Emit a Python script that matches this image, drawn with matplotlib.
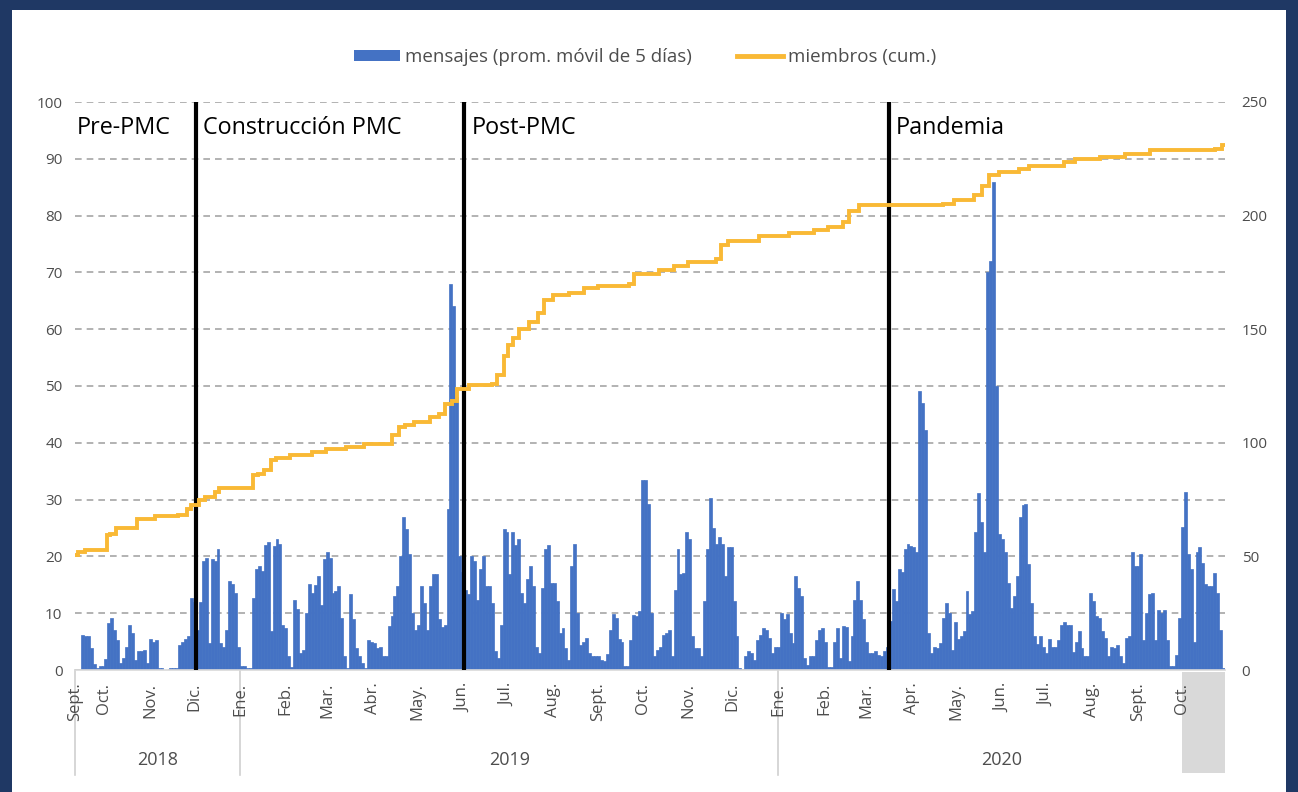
import numpy as np
import pandas as pd
import matplotlib
matplotlib.use('Agg')
import matplotlib.pyplot as plt
import matplotlib.transforms as mtransforms
from matplotlib.patches import Rectangle, Patch
from matplotlib.lines import Line2D

# ---------------- data ----------------
start_date = '2018-09-11'
end_date = '2020-10-30'
bin_days = 2

# mensajes (prom. movil de 5 dias), one value per 2-day bin from start_date
msg_vals = [
    0, 0, 6.2, 6.0, 6.0, 3.8, 1.0, 0.3, 0.7, 0.7,
    2.0, 8.3, 9.2, 7.1, 5.3, 1.2, 2.1, 4.1, 8.0, 6.5,
    1.8, 3.3, 3.3, 3.6, 1.2, 5.4, 4.9, 5.3, 0.3, 0.3,
    0, 0, 0.3, 0.3, 0.3, 4.4, 5.0, 5.4, 6.0, 12.7,
    12.0, 7.1, 12.0, 19.2, 19.8, 4.7, 19.5, 19.2, 21.3, 4.7,
    4.1, 7.1, 15.7, 15.1, 13.6, 4.0, 0.7, 0.7, 0.3, 0.3,
    12.7, 17.8, 18.3, 17.5, 22.0, 22.5, 6.8, 21.9, 23.1, 22.2,
    8.0, 7.4, 2.4, 0.6, 12.4, 10.7, 3.0, 3.6, 10.0, 15.1,
    13.6, 15.0, 16.6, 11.5, 19.5, 20.7, 19.8, 13.6, 13.9, 14.8,
    9.2, 2.4, 0.3, 13.3, 8.9, 3.8, 2.4, 1.3, 0.3, 5.3,
    5.0, 4.7, 3.8, 4.1, 2.4, 2.4, 7.7, 9.5, 13.0, 14.8,
    20.0, 26.9, 24.9, 20.4, 10.0, 7.1, 8.0, 14.8, 11.8, 7.0,
    14.8, 16.9, 16.9, 9.0, 7.5, 8.0, 28.4, 68.0, 64.0, 48.0,
    20.0, 17.2, 14.0, 13.3, 20.0, 19.2, 12.4, 17.8, 20.1, 14.8,
    14.8, 11.8, 3.3, 2.1, 8.0, 24.9, 24.3, 16.9, 24.3, 22.0,
    23.1, 13.6, 11.8, 16.0, 18.3, 14.8, 4.1, 3.0, 14.5, 21.3,
    22.0, 15.4, 15.4, 12.1, 6.5, 7.4, 3.8, 1.8, 18.3, 22.2,
    10.0, 4.4, 5.0, 5.6, 3.0, 2.4, 2.4, 2.4, 1.8, 1.5,
    2.8, 7.1, 9.8, 9.2, 5.5, 5.0, 0.7, 0.7, 5.3, 9.6,
    9.5, 10.4, 33.4, 33.4, 29.3, 10.0, 2.4, 3.6, 4.1, 6.2,
    6.5, 7.1, 2.4, 14.0, 21.3, 16.9, 17.0, 24.3, 23.1, 6.0,
    3.8, 3.8, 2.4, 12.1, 21.3, 30.2, 25.0, 22.2, 23.4, 22.2,
    16.6, 21.6, 21.6, 12.1, 6.0, 0.3, 0.0, 2.4, 3.3, 3.0,
    1.8, 5.3, 6.2, 7.4, 7.1, 5.6, 3.0, 4.1, 4.1, 10.0,
    8.9, 9.8, 6.5, 4.7, 16.6, 14.5, 13.0, 2.1, 0.9, 2.4,
    2.4, 5.3, 7.1, 7.4, 5.0, 0.6, 0.6, 5.0, 7.4, 2.1,
    7.8, 7.6, 1.5, 5.9, 12.4, 15.7, 12.4, 8.9, 5.0, 3.0,
    3.0, 3.3, 2.7, 2.4, 3.3, 4.0, 8.6, 14.3, 12.1, 17.8,
    17.2, 21.3, 22.2, 21.9, 21.6, 20.7, 49.1, 47.0, 42.3, 6.5,
    3.0, 4.1, 3.8, 4.7, 9.2, 11.8, 10.0, 3.6, 8.4, 5.4,
    5.9, 6.8, 13.9, 9.8, 10.4, 24.3, 31.1, 26.0, 20.7, 70.0,
    72.0, 86.0, 50.0, 24.0, 23.0, 20.7, 15.4, 11.0, 13.0, 16.6,
    26.9, 29.0, 29.3, 18.6, 11.8, 5.9, 4.5, 5.9, 4.1, 3.0,
    5.5, 4.1, 4.1, 5.3, 8.0, 8.4, 8.0, 8.0, 3.1, 5.0,
    6.8, 3.8, 2.4, 2.4, 13.6, 12.1, 9.5, 9.2, 6.8, 5.6,
    2.4, 4.1, 3.8, 4.4, 2.4, 1.2, 5.6, 5.9, 20.7, 18.3,
    18.3, 20.4, 5.3, 10.0, 13.3, 13.6, 5.3, 10.5, 10.0, 10.5,
    5.3, 0.7, 0.7, 2.7, 9.2, 25.1, 31.4, 20.4, 17.8, 5.0,
    20.7, 21.6, 18.9, 15.1, 14.8, 14.8, 17.0, 13.6, 7.1, 0.3,
]

# miembros (cum.) - step changes
member_dates = [
    '2018-09-11', '2018-09-13', '2018-09-18', '2018-10-03', '2018-10-05',
    '2018-10-09', '2018-10-23', '2018-11-04', '2018-11-20', '2018-11-26',
    '2018-11-29', '2018-12-04', '2018-12-08', '2018-12-15', '2018-12-18',
    '2019-01-10', '2019-01-13', '2019-01-17', '2019-01-22', '2019-01-25',
    '2019-02-04', '2019-02-19', '2019-02-28', '2019-03-14', '2019-03-26',
    '2019-04-14', '2019-04-19', '2019-04-23', '2019-04-29', '2019-05-10',
    '2019-05-16', '2019-05-20', '2019-05-25', '2019-05-28', '2019-06-05',
    '2019-06-21', '2019-06-24', '2019-06-29', '2019-07-02', '2019-07-05',
    '2019-07-09', '2019-07-16', '2019-07-22', '2019-07-26', '2019-08-01',
    '2019-08-12', '2019-08-22', '2019-09-01', '2019-09-22', '2019-09-25',
    '2019-10-12', '2019-10-22', '2019-11-01', '2019-11-20', '2019-11-23',
    '2019-11-28', '2019-12-19', '2020-01-08', '2020-01-25', '2020-02-04',
    '2020-02-14', '2020-02-18', '2020-02-25', '2020-04-22', '2020-04-29',
    '2020-05-13', '2020-05-18', '2020-05-23', '2020-05-30', '2020-06-12',
    '2020-06-19', '2020-07-13', '2020-07-20', '2020-08-06', '2020-08-23',
    '2020-09-09', '2020-10-23', '2020-10-28', '2020-10-30',
]
member_vals = [
    50.5, 52.0, 52.7, 59.3, 60.0,
    62.5, 66.6, 67.8, 68.4, 71.0,
    72.8, 74.7, 76.1, 78.3, 80.2,
    85.7, 86.4, 87.9, 92.3, 93.3,
    94.5, 96.0, 97.1, 98.1, 99.6,
    103.3, 107.0, 108.0, 109.2, 111.4,
    112.8, 117.2, 118.3, 123.8, 125.3,
    126.0, 130.0, 138.0, 143.0, 146.0,
    150.0, 153.0, 157.0, 163.0, 165.0,
    166.0, 168.0, 169.0, 170.0, 174.5,
    176.0, 178.0, 179.5, 181.0, 187.0,
    189.0, 191.0, 192.5, 193.5, 195.0,
    197.0, 202.0, 204.5, 205.0, 207.0,
    209.0, 213.0, 218.0, 219.0, 220.5,
    222.0, 223.5, 225.0, 226.0, 227.0,
    229.0, 229.5, 231.0, 231.0,
]

phase_dates = ['2018-12-02', '2019-06-02', '2020-03-16']
phase_labels = ['Pre-PMC', 'Construcción PMC', 'Post-PMC', 'Pandemia']
phase_label_dates = ['2018-09-12', '2018-12-07', '2019-06-07', '2020-03-21']

month_tick_dates = [
    '2018-09-11', '2018-10-01', '2018-11-01', '2018-12-01',
    '2019-01-01', '2019-02-01', '2019-03-01', '2019-04-01', '2019-05-01', '2019-06-01',
    '2019-07-01', '2019-08-01', '2019-09-01', '2019-10-01', '2019-11-01', '2019-12-01',
    '2020-01-01', '2020-02-01', '2020-03-01', '2020-04-01', '2020-05-01', '2020-06-01',
    '2020-07-01', '2020-08-01', '2020-09-01', '2020-10-01',
]
month_labels = [
    'Sept.', 'Oct.', 'Nov.', 'Dic.',
    'Ene.', 'Feb.', 'Mar.', 'Abr.', 'May.', 'Jun.',
    'Jul.', 'Aug.', 'Sept.', 'Oct.', 'Nov.', 'Dic.',
    'Ene.', 'Feb.', 'Mar.', 'Apr.', 'May.', 'Jun.',
    'Jul.', 'Aug.', 'Sept.', 'Oct.',
]
year_labels = ['2018', '2019', '2020']
year_bounds = ['2018-09-11', '2019-01-01', '2020-01-01', '2020-10-30']
highlight_start = '2020-10-01'

legend_labels = ['mensajes (prom. móvil de 5 días)', 'miembros (cum.)']

# ---------------- style ----------------
BAR_C = '#4472C4'
LINE_C = '#F9B935'
NAVY = '#1F3864'
TXT = '#4D4D4D'
FONT = ['Open Sans', 'DejaVu Sans']
plt.rcParams['font.family'] = FONT

W, H = 1298, 792
fig = plt.figure(figsize=(W / 100, H / 100), dpi=100)
fig.patch.set_facecolor(NAVY)
fig.patches.append(Rectangle((12 / W, 0), (1286 - 12) / W, (H - 10) / H,
                             transform=fig.transFigure, facecolor='white',
                             edgecolor='none', zorder=-10))

L, R, T, B = 75, 1225, 102, 670
ax = fig.add_axes([L / W, 1 - B / H, (R - L) / W, (B - T) / H])
ax.set_facecolor('none')

msg_dates = pd.date_range(start_date, periods=len(msg_vals), freq=f'{bin_days}D')
ax.bar(msg_dates, msg_vals, width=bin_days, align='edge', color=BAR_C,
       edgecolor=BAR_C, linewidth=0.5, zorder=2)

x0, x1 = pd.Timestamp(start_date), pd.Timestamp(end_date)
ax.set_xlim(x0, x1)
ax.set_ylim(0, 100)
ax.set_yticks(np.arange(0, 101, 10))
ax.grid(axis='y', linestyle=(0, (4, 3)), color='#A6A6A6', lw=1.2)
ax.grid(axis='x', visible=False)
ax.set_axisbelow(True)
for s in ['top', 'left', 'right']:
    ax.spines[s].set_visible(False)
ax.spines['bottom'].set_color('#D9D9D9')
ax.spines['bottom'].set_linewidth(1.2)
ax.tick_params(axis='both', length=0)
ax.tick_params(axis='y', labelsize=11, labelcolor=TXT, pad=9)

ax.set_xticks(pd.to_datetime(month_tick_dates))
ax.set_xticklabels(month_labels, rotation=90, ha='center', va='top',
                   fontsize=12, color=TXT)
ax.tick_params(axis='x', pad=9)

for d in phase_dates:
    ax.axvline(pd.Timestamp(d), color='black', lw=3, zorder=4)
for d, lab in zip(phase_label_dates, phase_labels):
    ax.text(pd.Timestamp(d), 95.4, lab, fontsize=16.8, color='black',
            va='center', ha='left', zorder=5)

# year group axis
trans = mtransforms.blended_transform_factory(ax.transData, ax.transAxes)
px = 1.0 / (B - T)
ax.add_patch(Rectangle((pd.Timestamp(highlight_start), -(773 - B) * px),
                       x1 - pd.Timestamp(highlight_start), (773 - B - 2) * px,
                       transform=trans, facecolor='#D9D9D9', edgecolor='none',
                       clip_on=False, zorder=0.2))
for d in year_bounds[:-1]:
    ax.plot([pd.Timestamp(d)] * 2, [0, -(775 - B) * px], transform=trans,
            color='#D0D0D0', lw=1.2, clip_on=False, zorder=0.3)
for i, lab in enumerate(year_labels):
    a, b = pd.Timestamp(year_bounds[i]), pd.Timestamp(year_bounds[i + 1])
    ax.text(a + (b - a) / 2, -(760 - B) * px, lab, transform=trans,
            ha='center', va='center', fontsize=13, color=TXT)

# members line on right axis
ax2 = ax.twinx()
ax2.step(pd.to_datetime(member_dates), member_vals, where='post',
         color=LINE_C, lw=2.8, zorder=3, solid_joinstyle='miter')
ax2.set_ylim(0, 250)
ax2.set_yticks(np.arange(0, 251, 50))
for s in ['top', 'left', 'right', 'bottom']:
    ax2.spines[s].set_visible(False)
ax2.tick_params(axis='y', length=0, labelsize=11, labelcolor=TXT, pad=12)
ax2.set_xlim(x0, x1)

handles = [Patch(facecolor=BAR_C, edgecolor='none'),
           Line2D([], [], color=LINE_C, lw=3.5)]
fig.legend(handles, legend_labels, loc='center',
           bbox_to_anchor=(645 / W, 1 - 57 / H), ncol=2, frameon=False,
           fontsize=13.5, labelcolor=TXT, handlelength=2.45, handleheight=0.55,
           columnspacing=2.4, handletextpad=0.27)

fig.savefig('out.png', dpi=100, facecolor=fig.get_facecolor())
